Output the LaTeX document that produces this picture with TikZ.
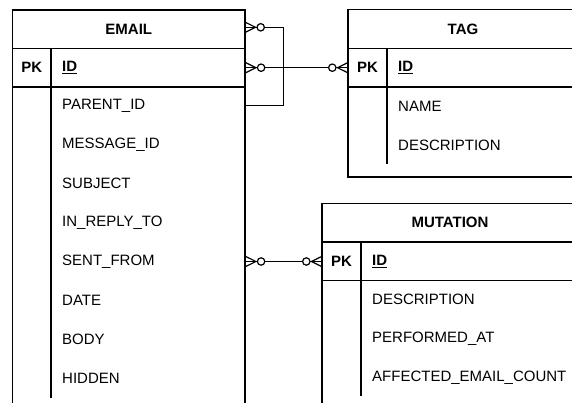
\documentclass[tikz,border=0pt]{standalone}
\usepackage{fontspec}
\setmainfont{Liberation Sans}
\begin{document}
\begin{tikzpicture}[x=1pt,y=-1pt,
  tb/.style={line width=1.3pt, draw=black},
  conn/.style={line width=1.2pt, draw=black},
  title/.style={font=\fontsize{15}{18}\selectfont\bfseries, inner sep=0pt},
  pkcell/.style={font=\fontsize{15}{18}\selectfont\bfseries, inner sep=0pt},
  field/.style={font=\fontsize{15}{18}\selectfont, anchor=west, inner xsep=11pt, inner ysep=0pt, minimum height=30pt, align=left},
  efield/.style={field, text width=172pt},
  ofield/.style={field, text width=206pt}]
\useasboundingbox (0,0) rectangle (572,403);

\newcommand\zeromanymark[2]{%
  \begin{scope}[shift={(#1)}, rotate=#2]
    \draw[conn, line join=miter] (0,5.2) -- (10.5,0) -- (0,-5.2);
    \draw[conn, fill=white] (15.7,0) circle (3.7);
  \end{scope}}

% ---------- EMAIL ----------
\draw[tb] (12.5,403) -- (12.5,10) -- (245,10) -- (245,403);
\draw[tb] (12.5,48.5) -- (245,48.5);
\draw[tb] (12.5,87) -- (245,87);
\draw[tb] (51,48.5) -- (51,398);
\node[title] (ehead) at (128.75,29.5) {EMAIL};
\coordinate (eheadr) at (245,27.3);
\node[pkcell] (epk) at (31.75,67.7) {PK};
\node[efield] (eid) at (51,67.7) {\textbf{\underline{ID}}};
\node[efield] (eparent) at (51,105.5) {PARENT\_ID};
\node[efield] (emsg) at (51,144.5) {MESSAGE\_ID};
\node[efield] (esubj) at (51,183.5) {SUBJECT};
\node[efield] (ereply) at (51,222.5) {IN\_REPLY\_TO};
\node[efield] (esent) at (51,261.5) {SENT\_FROM};
\node[efield] (edate) at (51,300.5) {DATE};
\node[efield] (ebody) at (51,339.5) {BODY};
\node[efield] (ehidden) at (51,378.5) {HIDDEN};

% ---------- TAG ----------
\draw[tb] (580,9.5) -- (348,9.5) -- (348,177) -- (580,177);
\draw[tb] (348,48.5) -- (580,48.5);
\draw[tb] (348,87) -- (580,87);
\draw[tb] (387,48.5) -- (387,164.5);
\node[title] (thead) at (463,29.5) {TAG};
\node[pkcell] (tpk) at (367.5,67.7) {PK};
\coordinate (tpkl) at (348,67.7);
\node[ofield] (tid) at (387,67.7) {\textbf{\underline{ID}}};
\node[ofield] (tname) at (387,106) {NAME};
\node[ofield] (tdesc) at (387,145) {DESCRIPTION};

% ---------- MUTATION ----------
\draw[tb] (580,203.5) -- (322,203.5) -- (322,403);
\draw[tb] (322,242) -- (580,242);
\draw[tb] (322,280.5) -- (580,280.5);
\draw[tb] (361,242) -- (361,396);
\node[title] (mhead) at (450,222.5) {MUTATION};
\node[pkcell] (mpk) at (341.5,261.5) {PK};
\coordinate (mpkl) at (322,261.5);
\node[ofield] (mid) at (361,261.5) {\textbf{\underline{ID}}};
\node[ofield] (mdesc) at (361,299.5) {DESCRIPTION};
\node[ofield] (mperf) at (361,339) {PERFORMED\_AT};
\node[ofield] (maff) at (361,378) {AFFECTED\_EMAIL\_COUNT};

% ---------- connectors ----------
\coordinate (loop1) at (283.5,27.3);
\coordinate (loop2) at (283.5,105.5);
\draw[conn] (eheadr) -- (loop1) -- (loop2) -- (eparent.east);
\draw[conn] (eid.east) -- (tpkl);
\draw[conn] (esent.east) -- (mpkl);

\zeromanymark{eheadr}{0}
\zeromanymark{eid.east}{0}
\zeromanymark{tpkl}{180}
\zeromanymark{esent.east}{0}
\zeromanymark{mpkl}{180}
\end{tikzpicture}
\end{document}
